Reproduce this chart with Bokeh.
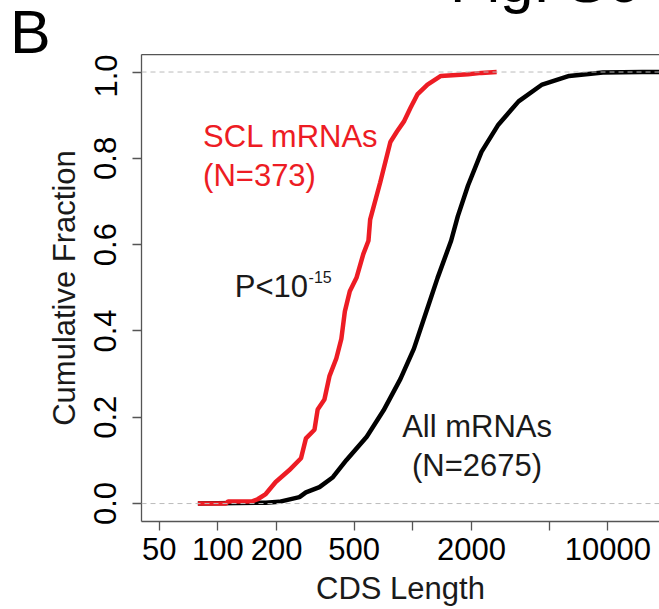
from bokeh.plotting import figure
from bokeh.layouts import column
from bokeh.models import (Range1d, FixedTicker, Span, Label, LogAxis, Div)
from bokeh.embed import file_html
from bokeh.resources import INLINE

# ---- data ----
scl_length = [79, 110, 113, 150, 160, 176, 198, 232, 267, 283, 313, 325, 352, 374,
              405, 430, 448, 475, 514, 557, 592, 604, 680, 767, 829, 899, 973,
              1055, 1189, 1393, 1918, 2249, 2690]
scl_fraction = [0.0, 0.0, 0.005, 0.005, 0.010, 0.022, 0.050, 0.077, 0.105, 0.151,
                0.171, 0.218, 0.241, 0.296, 0.336, 0.382, 0.445, 0.492, 0.523,
                0.578, 0.609, 0.658, 0.744, 0.838, 0.862, 0.885, 0.917, 0.948,
                0.971, 0.991, 0.995, 0.998, 1.0]

all_length = [79, 176, 206, 262, 283, 332, 389, 457, 580, 708, 864, 1013, 1189,
              1339, 1571, 1701, 1918, 2249, 2744, 3485, 4603, 6334, 9419, 15000, 30000]
all_fraction = [0.0, 0.002, 0.004, 0.015, 0.026, 0.038, 0.061, 0.101, 0.155, 0.216,
                0.289, 0.359, 0.453, 0.523, 0.609, 0.666, 0.737, 0.815, 0.878,
                0.932, 0.971, 0.991, 0.999, 1.0, 1.0]

x_ticks = [50, 100, 200, 500, 1000, 2000, 5000, 10000]
x_tick_labels = ["50", "100", "200", "500", "", "2000", "", "10000"]
y_ticks = [0.0, 0.2, 0.4, 0.6, 0.8, 1.0]
y_tick_labels = ["0.0", "0.2", "0.4", "0.6", "0.8", "1.0"]

panel_letter = "B"
figure_title = "Fig. S6"

FONT = "Liberation Sans"
RED = "#ED1C24"
AXC = "#555555"

W = 659
TOP_H = 54          # strip above the plot frame (panel letter + cut-off figure title)
MAIN_H = 609 - TOP_H
FRAME_LEFT = 141
FRAME_BOTTOM = 467  # from the top of the main figure

# ---------------- top strip (panel letter and the cut-off figure title) ----------------
head_html = (
    f"<div style=\"position:relative;width:{W}px;height:{TOP_H}px;overflow:hidden;"
    f"margin:0;padding:0;background:white;font-family:'{FONT}';color:black;\">"
    f"<span style=\"position:absolute;left:10px;top:2px;font-size:61px;line-height:1;"
    f"white-space:nowrap;\">{panel_letter}</span>"
    f"<span style=\"position:absolute;left:450px;top:-48px;font-size:60px;line-height:1;"
    f"white-space:nowrap;\">{figure_title}</span>"
    "</div>"
)
head = Div(text=head_html, width=W, height=TOP_H, margin=0)

# ---------------- main plot ----------------
p = figure(width=W, height=MAIN_H, x_axis_type="log",
           x_range=Range1d(40.6, 18400), y_range=Range1d(-0.0416, 1.0406),
           output_backend="svg", toolbar_location=None,
           min_border_left=FRAME_LEFT, min_border_right=0, min_border_top=0,
           min_border_bottom=MAIN_H - FRAME_BOTTOM)
p.outline_line_color = None
p.grid.visible = False
p.background_fill_color = "white"
p.border_fill_color = "white"

for ax in (p.xaxis[0], p.yaxis[0]):
    ax.axis_line_color = AXC
    ax.axis_line_width = 1.3
    ax.major_tick_line_color = AXC
    ax.major_tick_line_width = 1.3
    ax.major_tick_in = 0
    ax.major_tick_out = 9
    ax.minor_tick_line_color = None
    ax.major_label_text_font = FONT
    ax.major_label_text_font_size = "31px"
    ax.major_label_text_color = "#000000"
    ax.axis_label_text_font = FONT
    ax.axis_label_text_font_size = "31px"
    ax.axis_label_text_font_style = "normal"
    ax.axis_label_text_color = "#1a1a1a"

p.xaxis[0].ticker = FixedTicker(ticks=x_ticks)
p.xaxis[0].major_label_overrides = {t: l for t, l in zip(x_ticks, x_tick_labels)}
p.xaxis[0].major_label_standoff = 7
p.xaxis[0].axis_label = "CDS Length"
p.xaxis[0].axis_label_standoff = 8

p.yaxis[0].ticker = FixedTicker(ticks=y_ticks)
p.yaxis[0].major_label_overrides = {t: l for t, l in zip(y_ticks, y_tick_labels)}
p.yaxis[0].major_label_orientation = "vertical"
p.yaxis[0].major_label_standoff = 16
p.yaxis[0].axis_label = "Cumulative Fraction"
p.yaxis[0].axis_label_standoff = 10

# top frame line
top = LogAxis(axis_line_color=AXC, axis_line_width=1.3, major_tick_line_color=None,
              major_tick_out=0, minor_tick_out=0, minor_tick_line_color=None,
              major_label_text_font_size="0px", ticker=FixedTicker(ticks=[]))
p.add_layout(top, "above")

# curves
p.line(all_length, all_fraction, line_color="black", line_width=4.5)
p.line(scl_length, scl_fraction, line_color=RED, line_width=4.5)

# reference dashed lines
for loc in (0.0, 1.0):
    p.add_layout(Span(location=loc, dimension="width", line_color="#BBBBBB",
                      line_width=1, line_dash="5 4"))

# annotations
p.add_layout(Label(x=84, y=0.850, text="SCL mRNAs", text_color=RED, text_font=FONT,
                   text_font_size="31px", text_baseline="alphabetic", text_align="left"))
p.add_layout(Label(x=84, y=0.760, text="(N=373)", text_color=RED, text_font=FONT,
                   text_font_size="31px", text_baseline="alphabetic", text_align="left"))
p.add_layout(Label(x=290, y=0.504, text="P<10", text_color="#1a1a1a", text_font=FONT,
                   text_font_size="31px", text_baseline="alphabetic", text_align="right"))
p.add_layout(Label(x=292, y=0.525, text="-15", text_color="#1a1a1a", text_font=FONT,
                   text_font_size="16px", text_baseline="alphabetic", text_align="left"))
p.add_layout(Label(x=2134, y=0.179, text="All mRNAs", text_color="#1a1a1a", text_font=FONT,
                   text_font_size="31px", text_baseline="alphabetic", text_align="center"))
p.add_layout(Label(x=2134, y=0.089, text="(N=2675)", text_color="#1a1a1a", text_font=FONT,
                   text_font_size="31px", text_baseline="alphabetic", text_align="center"))

page = column(head, p, spacing=0)
open("out.html", "w").write(file_html(page, INLINE))
